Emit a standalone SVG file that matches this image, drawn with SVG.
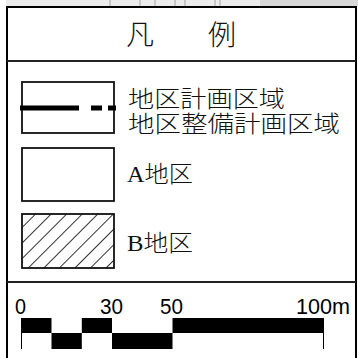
<svg xmlns="http://www.w3.org/2000/svg" width="358" height="358" viewBox="0 0 358 358">
  <style>
    .frame { fill: none; stroke: #000; stroke-width: 2; }
    .div { stroke: #222; stroke-width: 2; }
    .box { fill: #fff; stroke: #111; stroke-width: 1.8; }
    .jp { font-family: "Liberation Serif", "Noto Sans CJK JP", serif; font-size: 23px; font-weight: 300; fill: #111; }
    .title { font-family: "Noto Sans CJK JP", sans-serif; font-size: 28px; font-weight: 300; fill: #111; text-anchor: middle; }
    .num { font-family: "Liberation Sans", Arial, sans-serif; font-size: 22px; fill: #000; }
    .bar { fill: #000; }
    .tick { stroke: #000; stroke-width: 1; }
  </style>
  <defs>
    <pattern id="hatch" patternUnits="userSpaceOnUse" width="11" height="11" patternTransform="rotate(45)">
      <line x1="0" y1="0" x2="0" y2="11" stroke="#000" stroke-width="1.6"/>
    </pattern>
  </defs>
  <rect x="0" y="0" width="358" height="358" fill="#fff"/>
  <g id="map-strip">
    <rect x="6" y="0" width="352" height="6" fill="#ececec"/>
    <path d="M110 0v6M140 0v6M155 0v6M175 0v6M185 0v6M215 0v6M220 0v6" stroke="#bbb" stroke-width="1.5"/>
    <rect x="260" y="0" width="98" height="6" fill="#d8d8d8"/>
  </g>
  <g id="frame">
    <rect class="frame" x="7" y="7" width="349" height="360"/>
    <line class="div" x1="7" y1="61" x2="356" y2="61"/>
    <line class="div" x1="7" y1="282" x2="356" y2="282"/>
  </g>
  <g id="title">
    <text class="title" x="140" y="45">凡</text>
    <text class="title" x="222" y="45">例</text>
  </g>
  <g id="legend-boundary">
    <rect class="box" x="22" y="82" width="92" height="51"/>
    <rect x="20" y="105.5" width="59" height="5" fill="#000"/>
    <rect x="91" y="105.5" width="11" height="5" fill="#000"/>
    <rect x="108" y="105.5" width="8" height="5" fill="#000"/>
    <text class="jp" x="128" y="106.5" textLength="157" lengthAdjust="spacingAndGlyphs">地区計画区域</text>
    <text class="jp" x="128" y="131.5" textLength="212" lengthAdjust="spacingAndGlyphs">地区整備計画区域</text>
  </g>
  <g id="legend-a">
    <rect class="box" x="22" y="148" width="92" height="53"/>
    <text class="jp" x="127" y="181.5" textLength="66" lengthAdjust="spacingAndGlyphs">A地区</text>
  </g>
  <g id="legend-b">
    <rect x="22" y="214" width="92" height="54" fill="url(#hatch)" stroke="#111" stroke-width="1.8"/>
    <text class="jp" x="127" y="250.5" textLength="66" lengthAdjust="spacingAndGlyphs">B地区</text>
  </g>
  <g id="scale">
    <line class="tick" x1="21.5" y1="318" x2="21.5" y2="349"/>
    <line class="tick" x1="323.5" y1="318" x2="323.5" y2="349"/>
    <rect class="bar" x="21" y="318" width="30.5" height="15"/>
    <rect class="bar" x="51.5" y="333" width="30.3" height="16"/>
    <rect class="bar" x="81.8" y="318" width="30.2" height="15"/>
    <rect class="bar" x="112" y="333" width="60.5" height="16"/>
    <rect class="bar" x="172.5" y="318" width="151.5" height="15"/>
    <text class="num" x="15" y="314" textLength="11" lengthAdjust="spacingAndGlyphs">0</text>
    <text class="num" x="100" y="314" textLength="23" lengthAdjust="spacingAndGlyphs">30</text>
    <text class="num" x="160" y="314" textLength="23" lengthAdjust="spacingAndGlyphs">50</text>
    <text class="num" x="296" y="314" textLength="54" lengthAdjust="spacingAndGlyphs">100m</text>
  </g>
</svg>
